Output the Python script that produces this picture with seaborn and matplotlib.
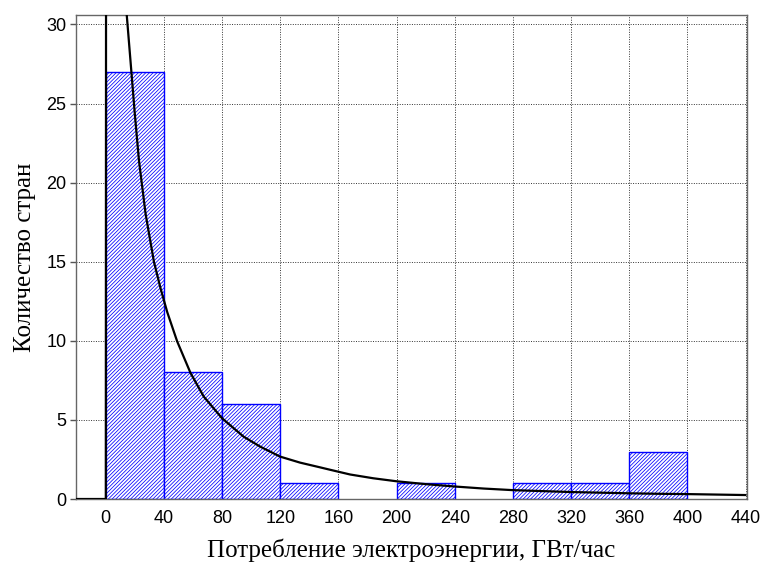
import matplotlib
matplotlib.use("Agg")
import matplotlib.pyplot as plt
import seaborn as sns

# Histogram data (bin edges in GWh, counts of countries)
bin_edges = [0, 40, 80, 120, 160, 200, 240, 280, 320, 360, 400]
bin_counts = [27, 8, 6, 1, 0, 1, 0, 1, 1, 3]

# Fitted density curve
curve_x = [-20.5, 0, 0.4, 3, 8, 11, 14.4, 17.6, 19.9, 22.8, 27.4, 33.1, 37.7, 42.3,
           49.1, 58.3, 67.4, 79.9, 94.8, 106.2, 119.9, 133.6, 147.4, 154.2, 168,
           184, 200, 220, 240, 260, 280, 300, 320, 340, 360, 380, 400, 420, 440]
curve_y = [0, 0, 80, 65, 45, 37, 30.6, 27.0, 24.4, 21.4, 18.0, 15.0, 13.3, 11.8,
           9.96, 7.96, 6.47, 5.11, 3.94, 3.31, 2.68, 2.30, 2.0, 1.85, 1.55,
           1.31, 1.12, 0.94, 0.79, 0.66, 0.56, 0.5, 0.44, 0.4, 0.36, 0.33, 0.31, 0.28, 0.25]

x_ticks = [0, 40, 80, 120, 160, 200, 240, 280, 320, 360, 400, 440]
y_ticks = [0, 5, 10, 15, 20, 25, 30]

sns.set_style("ticks")
plt.rcParams["font.family"] = ["Liberation Sans", "DejaVu Sans"]
plt.rcParams["hatch.linewidth"] = 0.55

fig = plt.figure(figsize=(7.63, 5.68), dpi=100)
ax = fig.add_axes([76 / 763, 1 - 499 / 568, (747 - 76) / 763, (499 - 15) / 568])

centers = [(bin_edges[i] + bin_edges[i + 1]) / 2 for i in range(len(bin_counts))]
sns.histplot(x=centers, weights=bin_counts, bins=bin_edges, ax=ax, stat="count")
for p in ax.patches:
    p.set_facecolor("white")
    p.set_edgecolor("#0000ff")
    p.set_hatch("/////////")
    p.set_linewidth(1.0)
    p.set_alpha(1)
    if p.get_height() == 0:
        p.set_visible(False)

sns.lineplot(x=curve_x, y=curve_y, ax=ax, color="black", linewidth=1.6,
             sort=False, estimator=None, zorder=5)

ax.set_xlim(-20.5, 441)
ax.set_ylim(0, 30.6)
ax.set_xticks(x_ticks)
ax.set_yticks(y_ticks)
ax.set_xticklabels([str(t) for t in x_ticks], fontsize=13, color="black")
ax.set_yticklabels([str(t) for t in y_ticks], fontsize=13, color="black")
ax.tick_params(axis="x", length=0, pad=8)
ax.tick_params(axis="y", length=4, direction="out", width=1, color="#555555", pad=3)

ax.set_axisbelow(True)
ax.grid(True, color="#333333", linestyle=(0, (1, 1.5)), linewidth=0.7)

for s in ax.spines.values():
    s.set_visible(True)
    s.set_color("#666666")
    s.set_linewidth(1.0)

ax.set_xlabel("Потребление электроэнергии, ГВт/час", fontsize=18, color="black",
              family=["Liberation Serif", "DejaVu Serif"], labelpad=8)
ax.set_ylabel("Количество стран", fontsize=18, color="black",
              family=["Liberation Serif", "DejaVu Serif"], labelpad=7)

fig.savefig("out.png", dpi=100)
